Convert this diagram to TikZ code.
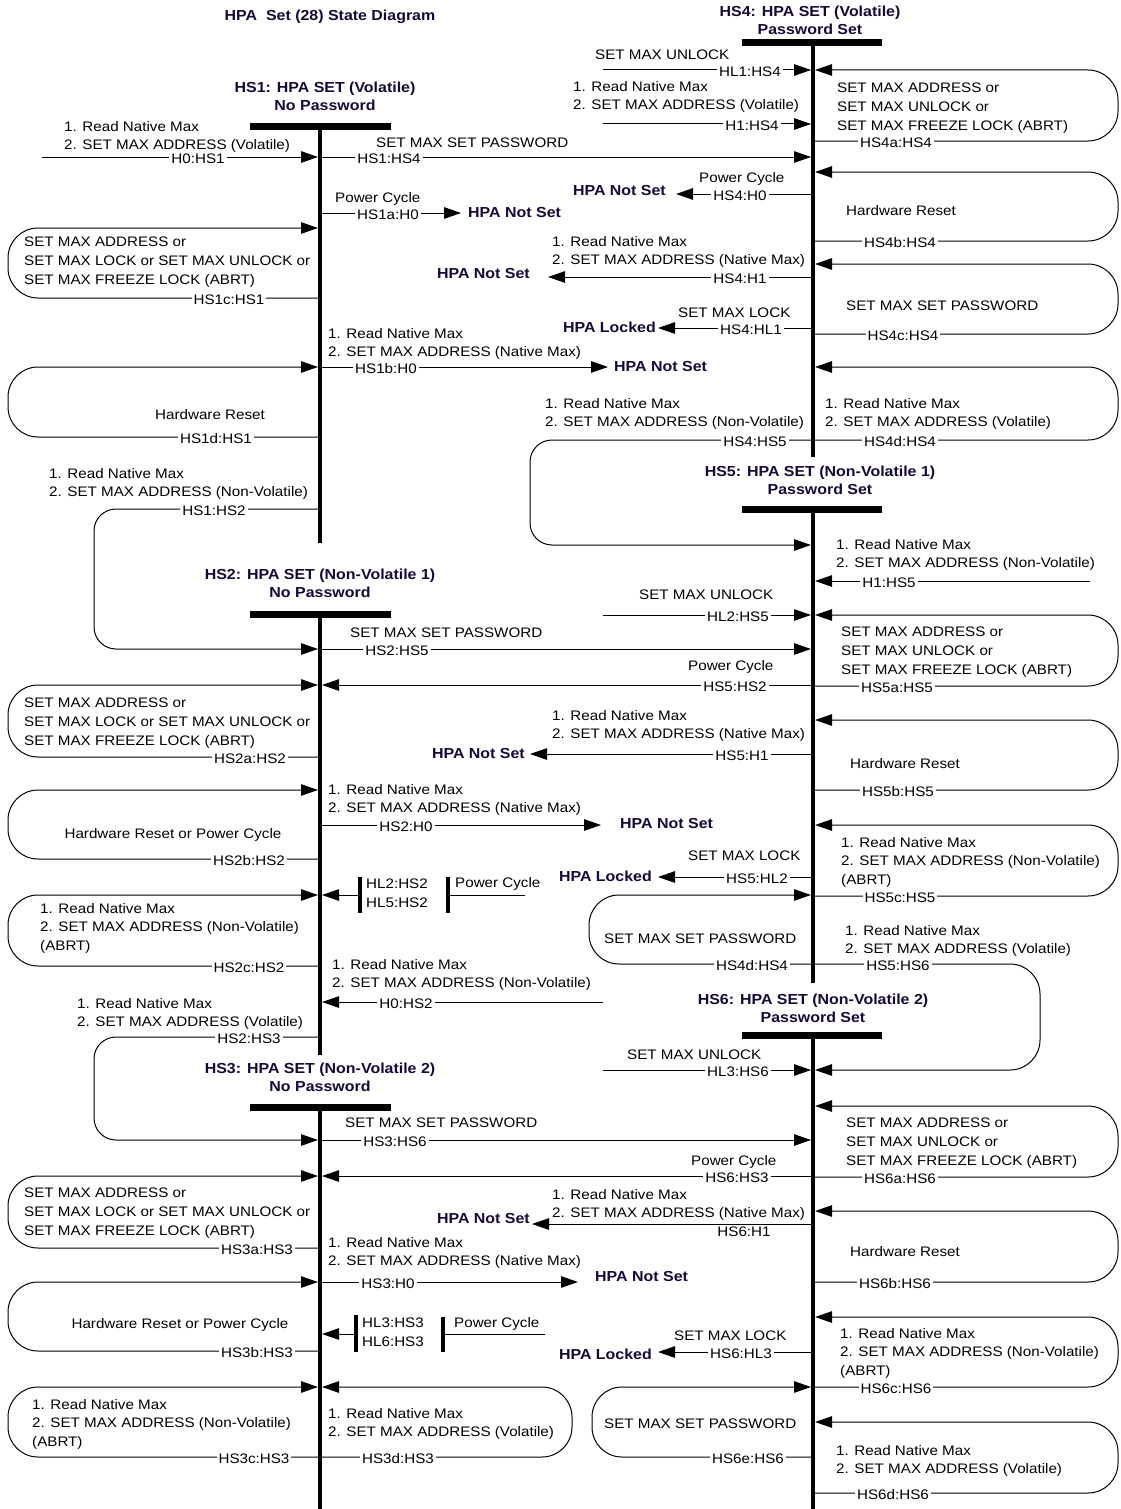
\documentclass[tikz,border=0pt]{standalone}
\usepackage{fontspec}
\setmainfont{Liberation Sans}[FakeStretch=1.1]
\usetikzlibrary{arrows.meta}
\definecolor{hdrink}{RGB}{24,8,56}
\tikzset{
	txt/.style={font=\fontsize{13.8}{18.7}\selectfont, inner sep=0pt, align=left, anchor=north west},
	ctxt/.style={txt, align=center, anchor=north},
	hdr/.style={font=\fontsize{14.5}{18}\selectfont\bfseries, text=hdrink, inner sep=0pt, align=center, anchor=north},
	goal/.style={font=\fontsize{14.5}{18}\selectfont\bfseries, text=hdrink, inner sep=0pt},
	tag/.style={font=\fontsize{13.8}{18.7}\selectfont, fill=white, inner xsep=2pt, inner ysep=0.5pt, text height=9.9pt, text depth=0pt, yshift=-2pt},
	conn/.style={line width=1pt},
	into/.style={-{Triangle[length=17pt,width=11.5pt]}},
	life/.style={line width=4pt},
	bar/.style={line width=7pt},
	gate/.style={line width=3.5pt}
}

\begin{document}
\begin{tikzpicture}[x=1pt,y=-1pt]
		%%%%% START %%%%%
		\useasboundingbox[fill=white] (0,0) rectangle (1120,1509);
		
		\node[goal] (title) at (330,17) {HPA\ \ Set (28) State Diagram};
		
		% states
		\node[hdr] (hs1) at (325,82) {HS1: HPA SET (Volatile)\\No Password};
		\draw[bar] (250,127) -- (391,127);
		\draw[life] (320,127) -- (320,543);
		
		\node[hdr] (hs2) at (320,569) {HS2: HPA SET (Non-Volatile 1)\\No Password};
		\draw[bar] (250,614) -- (391,614);
		\draw[life] (320,614) -- (320,1055);
		
		\node[hdr] (hs3) at (320,1063) {HS3: HPA SET (Non-Volatile 2)\\No Password};
		\draw[bar] (250,1107) -- (391,1107);
		\draw[life] (320,1107) -- (320,1509);
		
		\node[hdr] (hs4) at (810,6) {HS4: HPA SET (Volatile)\\Password Set};
		\draw[bar] (742,43) -- (882,43);
		\draw[life] (813,43) -- (813,457);
		
		\node[hdr] (hs5) at (820,466) {HS5: HPA SET (Non-Volatile 1)\\Password Set};
		\draw[bar] (742,509) -- (882,509);
		\draw[life] (813,509) -- (813,983);
		
		\node[hdr] (hs6) at (813,994) {HS6: HPA SET (Non-Volatile 2)\\Password Set};
		\draw[bar] (742,1035) -- (882,1035);
		\draw[life] (813,1035) -- (813,1509);
		
		% HS1
		\node[txt] (h0hs1c) at (64,121) {1. Read Native Max\\2. SET MAX ADDRESS (Volatile)};
		\draw[conn,into] (42,157) -- (318,157);
		\node[tag] (h0hs1) at (198,157) {H0:HS1};
		
		\node[txt] (hs1hs4c) at (376,138) {SET MAX SET PASSWORD};
		\draw[conn,into] (320,157) -- (811,157);
		\node[tag] (hs1hs4) at (389,157) {HS1:HS4};
		
		\node[txt] (hs1ah0c) at (335,192) {Power Cycle};
		\draw[conn,into] (320,213) -- (461,213);
		\node[tag] (hs1ah0) at (388,213) {HS1a:H0};
		\node[goal,anchor=west] (notset1) at (468,213) {HPA Not Set};
		
		\draw[conn,into,rounded corners=30pt] (320,298) -- (8,298) -- (8,228) -- (318,228);
		\node[txt] (hs1cc) at (24,237) {SET MAX ADDRESS or\\SET MAX LOCK or SET MAX UNLOCK or\\SET MAX FREEZE LOCK (ABRT)};
		\node[tag] (hs1c) at (229,298) {HS1c:HS1};
		
		\node[txt] (hs1bh0c) at (328,328) {1. Read Native Max\\2. SET MAX ADDRESS (Native Max)};
		\draw[conn,into] (320,367) -- (608,367);
		\node[tag] (hs1bh0) at (386,367) {HS1b:H0};
		\node[goal,anchor=west] (notset2) at (614,367) {HPA Not Set};
		
		\draw[conn,into,rounded corners=30pt] (320,437) -- (8,437) -- (8,367) -- (318,367);
		\node[ctxt] (hs1dc) at (210,409) {Hardware Reset};
		\node[tag] (hs1d) at (216,437) {HS1d:HS1};
		
		\node[txt] (hs1hs2c) at (49,468) {1. Read Native Max\\2. SET MAX ADDRESS (Non-Volatile)};
		\draw[conn,into,rounded corners=22pt] (320,509) -- (94,509) -- (94,649) -- (318,649);
		\node[tag] (hs1hs2) at (214,509) {HS1:HS2};
		
		% HS2
		\node[txt] (hs2hs5c) at (350,628) {SET MAX SET PASSWORD};
		\draw[conn,into] (320,649) -- (811,649);
		\node[tag] (hs2hs5) at (397,649) {HS2:HS5};
		
		\draw[conn,into,rounded corners=30pt] (320,757) -- (8,757) -- (8,685) -- (318,685);
		\node[txt] (hs2ac) at (24,698) {SET MAX ADDRESS or\\SET MAX LOCK or SET MAX UNLOCK or\\SET MAX FREEZE LOCK (ABRT)};
		\node[tag] (hs2a) at (250,757) {HS2a:HS2};
		
		\node[txt] (hs5hs2c) at (688,660) {Power Cycle};
		\draw[conn,into] (813,685) -- (322,685);
		\node[tag] (hs5hs2) at (735,685) {HS5:HS2};
		
		\node[txt] (hs2h0c) at (328,784) {1. Read Native Max\\2. SET MAX ADDRESS (Native Max)};
		\draw[conn,into] (320,825) -- (601,825);
		\node[tag] (hs2h0) at (406,825) {HS2:H0};
		\node[goal,anchor=west] (notset3) at (620,823) {HPA Not Set};
		
		\draw[conn,into,rounded corners=30pt] (320,859) -- (8,859) -- (8,790) -- (318,790);
		\node[ctxt] (hs2bc) at (173,828) {Hardware Reset or Power Cycle};
		\node[tag] (hs2b) at (249,859) {HS2b:HS2};
		
		\draw[conn,into,rounded corners=30pt] (320,966) -- (8,966) -- (8,895) -- (318,895);
		\node[txt] (hs2cc) at (40,903) {1. Read Native Max\\2. SET MAX ADDRESS (Non-Volatile)\\(ABRT)};
		\node[tag] (hs2c) at (249,966) {HS2c:HS2};
		
		\draw[conn,into] (360,895) -- (322,895);
		\draw[gate] (360,877) -- (360,913);
		\node[txt] (hl2hs2) at (366,879) {HL2:HS2\\HL5:HS2};
		\draw[gate] (448,877) -- (448,913);
		\node[txt] (hl2pc) at (455,877) {Power Cycle};
		\draw[conn] (448,895) -- (525,895);
		
		\node[txt] (h0hs2c) at (332,959) {1. Read Native Max\\2. SET MAX ADDRESS (Non-Volatile)};
		\draw[conn,into] (603,1002) -- (322,1002);
		\node[tag] (h0hs2) at (406,1002) {H0:HS2};
		
		\node[txt] (hs2hs3c) at (77,998) {1. Read Native Max\\2. SET MAX ADDRESS (Volatile)};
		\draw[conn,into,rounded corners=22pt] (320,1037) -- (94,1037) -- (94,1140) -- (318,1140);
		\node[tag] (hs2hs3) at (249,1037) {HS2:HS3};
		
		% HS3
		\node[txt] (hs3hs6c) at (345,1118) {SET MAX SET PASSWORD};
		\draw[conn,into] (320,1140) -- (811,1140);
		\node[tag] (hs3hs6) at (395,1140) {HS3:HS6};
		
		\draw[conn,into,rounded corners=30pt] (320,1248) -- (8,1248) -- (8,1176) -- (318,1176);
		\node[txt] (hs3ac) at (24,1188) {SET MAX ADDRESS or\\SET MAX LOCK or SET MAX UNLOCK or\\SET MAX FREEZE LOCK (ABRT)};
		\node[tag] (hs3a) at (257,1248) {HS3a:HS3};
		
		\node[txt] (hs6hs3c) at (691,1155) {Power Cycle};
		\draw[conn,into] (813,1176) -- (322,1176);
		\node[tag] (hs6hs3) at (737,1176) {HS6:HS3};
		
		\node[txt] (hs3h0c) at (328,1237) {1. Read Native Max\\2. SET MAX ADDRESS (Native Max)};
		\draw[conn,into] (320,1282) -- (578,1282);
		\node[tag] (hs3h0) at (388,1282) {HS3:H0};
		\node[goal,anchor=west] (notset4) at (595,1276) {HPA Not Set};
		
		\draw[conn,into,rounded corners=30pt] (320,1351) -- (8,1351) -- (8,1282) -- (318,1282);
		\node[ctxt] (hs3bc) at (180,1318) {Hardware Reset or Power Cycle};
		\node[tag] (hs3b) at (257,1351) {HS3b:HS3};
		
		\draw[conn,into] (356,1334) -- (322,1334);
		\draw[gate] (356,1315) -- (356,1352);
		\node[txt] (hl3hs3) at (362,1318) {HL3:HS3\\HL6:HS3};
		\draw[gate] (443,1317) -- (443,1352);
		\node[txt] (hl3pc) at (454,1317) {Power Cycle};
		\draw[conn] (443,1334) -- (545,1334);
		
		\draw[conn,into,rounded corners=30pt] (320,1457) -- (8,1457) -- (8,1387) -- (318,1387);
		\node[txt] (hs3cc) at (32,1399) {1. Read Native Max\\2. SET MAX ADDRESS (Non-Volatile)\\(ABRT)};
		\node[tag] (hs3c) at (254,1457) {HS3c:HS3};
		
		\draw[conn,into,rounded corners=30pt] (320,1457) -- (572,1457) -- (572,1387) -- (322,1387);
		\node[txt] (hs3dc) at (328,1408) {1. Read Native Max\\2. SET MAX ADDRESS (Volatile)};
		\node[tag] (hs3d) at (398,1457) {HS3d:HS3};
		
		% HS4
		\node[txt] (hl1hs4c) at (595,50) {SET MAX UNLOCK};
		\draw[conn,into] (603,70) -- (811,70);
		\node[tag] (hl1hs4) at (750,70) {HL1:HS4};
		
		\draw[conn,into,rounded corners=30pt] (813,141) -- (1118,141) -- (1118,70) -- (815,70);
		\node[txt] (hs4ac) at (837,83) {SET MAX ADDRESS or\\SET MAX UNLOCK or\\SET MAX FREEZE LOCK (ABRT)};
		\node[tag] (hs4a) at (896,141) {HS4a:HS4};
		
		\node[txt] (h1hs4c) at (573,81) {1. Read Native Max\\2. SET MAX ADDRESS (Volatile)};
		\draw[conn,into] (603,124) -- (811,124);
		\node[tag] (h1hs4) at (752,124) {H1:HS4};
		
		\node[txt] (hs4h0c) at (699,172) {Power Cycle};
		\draw[conn,into] (813,194) -- (676,194);
		\node[tag] (hs4h0) at (740,194) {HS4:H0};
		\node[goal,anchor=east] (notset5) at (666,191) {HPA Not Set};
		
		\draw[conn,into,rounded corners=30pt] (813,241) -- (1118,241) -- (1118,172) -- (815,172);
		\node[txt] (hs4bc) at (846,205) {Hardware Reset};
		\node[tag] (hs4b) at (900,241) {HS4b:HS4};
		
		\node[txt] (hs4h1c) at (552,236) {1. Read Native Max\\2. SET MAX ADDRESS (Native Max)};
		\draw[conn,into] (813,277) -- (548,277);
		\node[tag] (hs4h1) at (740,277) {HS4:H1};
		\node[goal,anchor=east] (notset6) at (530,274) {HPA Not Set};
		
		\draw[conn,into,rounded corners=30pt] (813,334) -- (1118,334) -- (1118,264) -- (815,264);
		\node[txt] (hs4cc) at (846,301) {SET MAX SET PASSWORD};
		\node[tag] (hs4c) at (903,334) {HS4c:HS4};
		
		\node[txt] (hs4hl1c) at (678,308) {SET MAX LOCK};
		\draw[conn,into] (813,328) -- (658,328);
		\node[tag] (hs4hl1) at (751,328) {HS4:HL1};
		\node[goal,anchor=east] (locked1) at (656,327) {HPA Locked};
		
		\draw[conn,into,rounded corners=30pt] (813,440) -- (1118,440) -- (1118,367) -- (815,367);
		\node[txt] (hs4dc) at (825,398) {1. Read Native Max\\2. SET MAX ADDRESS (Volatile)};
		\node[tag] (hs4d) at (900,440) {HS4d:HS4};
		
		\node[txt] (hs4hs5c) at (545,398) {1. Read Native Max\\2. SET MAX ADDRESS (Non-Volatile)};
		\draw[conn,into,rounded corners=22pt] (813,440) -- (530,440) -- (530,545) -- (811,545);
		\node[tag] (hs4hs5) at (755,440) {HS4:HS5};
		
		% HS5
		\node[txt] (h1hs5c) at (836,539) {1. Read Native Max\\2. SET MAX ADDRESS (Non-Volatile)};
		\draw[conn,into] (1090,581) -- (815,581);
		\node[tag] (h1hs5) at (889,581) {H1:HS5};
		
		\node[txt] (hl2hs5c) at (639,590) {SET MAX UNLOCK};
		\draw[conn,into] (603,615) -- (811,615);
		\node[tag] (hl2hs5) at (738,615) {HL2:HS5};
		
		\draw[conn,into,rounded corners=30pt] (813,686) -- (1118,686) -- (1118,615) -- (815,615);
		\node[txt] (hs5ac) at (841,627) {SET MAX ADDRESS or\\SET MAX UNLOCK or\\SET MAX FREEZE LOCK (ABRT)};
		\node[tag] (hs5a) at (897,686) {HS5a:HS5};
		
		\node[txt] (hs5h1c) at (552,710) {1. Read Native Max\\2. SET MAX ADDRESS (Native Max)};
		\draw[conn,into] (813,754) -- (530,754);
		\node[tag] (hs5h1) at (742,754) {HS5:H1};
		\node[goal,anchor=east] (notset7) at (525,753) {HPA Not Set};
		
		\draw[conn,into,rounded corners=30pt] (813,790) -- (1118,790) -- (1118,720) -- (815,720);
		\node[txt] (hs5bc) at (850,758) {Hardware Reset};
		\node[tag] (hs5b) at (898,790) {HS5b:HS5};
		
		\draw[conn,into,rounded corners=30pt] (813,896) -- (1118,896) -- (1118,825) -- (815,825);
		\node[txt] (hs5cc) at (841,837) {1. Read Native Max\\2. SET MAX ADDRESS (Non-Volatile)\\(ABRT)};
		\node[tag] (hs5c) at (900,896) {HS5c:HS5};
		
		\node[txt] (hs5hl2c) at (688,851) {SET MAX LOCK};
		\draw[conn,into] (813,877) -- (658,877);
		\node[tag] (hs5hl2) at (757,877) {HS5:HL2};
		\node[goal,anchor=east] (locked2) at (652,876) {HPA Locked};
		
		\draw[conn,into,rounded corners=30pt] (813,964) -- (589,964) -- (589,895) -- (811,895);
		\node[txt] (hs5pwc) at (604,934) {SET MAX SET PASSWORD};
		\node[tag] (hs5pw) at (752,964) {HS4d:HS4};
		
		\node[txt] (hs5hs6c) at (845,925) {1. Read Native Max\\2. SET MAX ADDRESS (Volatile)};
		\draw[conn,into,rounded corners=30pt] (813,964) -- (1040,964) -- (1040,1070) -- (815,1070);
		\node[tag] (hs5hs6) at (898,964) {HS5:HS6};
		
		% HS6
		\node[txt] (hl3hs6c) at (627,1050) {SET MAX UNLOCK};
		\draw[conn,into] (603,1070) -- (811,1070);
		\node[tag] (hl3hs6) at (738,1070) {HL3:HS6};
		
		\draw[conn,into,rounded corners=30pt] (813,1177) -- (1118,1177) -- (1118,1106) -- (815,1106);
		\node[txt] (hs6ac) at (846,1118) {SET MAX ADDRESS or\\SET MAX UNLOCK or\\SET MAX FREEZE LOCK (ABRT)};
		\node[tag] (hs6a) at (900,1177) {HS6a:HS6};
		
		\node[txt] (hs6h1c) at (552,1189) {1. Read Native Max\\2. SET MAX ADDRESS (Native Max)};
		\draw[conn,into] (813,1224) -- (532,1224);
		\node[tag] (hs6h1) at (744,1230) {HS6:H1};
		\node[goal,anchor=east] (notset8) at (530,1218) {HPA Not Set};
		
		\draw[conn,into,rounded corners=30pt] (813,1282) -- (1118,1282) -- (1118,1211) -- (815,1211);
		\node[txt] (hs6bc) at (850,1246) {Hardware Reset};
		\node[tag] (hs6b) at (895,1282) {HS6b:HS6};
		
		\draw[conn,into,rounded corners=30pt] (813,1387) -- (1118,1387) -- (1118,1317) -- (815,1317);
		\node[txt] (hs6cc) at (840,1328) {1. Read Native Max\\2. SET MAX ADDRESS (Non-Volatile)\\(ABRT)};
		\node[tag] (hs6c) at (896,1387) {HS6c:HS6};
		
		\node[txt] (hs6hl3c) at (674,1331) {SET MAX LOCK};
		\draw[conn,into] (813,1352) -- (658,1352);
		\node[tag] (hs6hl3) at (741,1352) {HS6:HL3};
		\node[goal,anchor=east] (locked3) at (652,1354) {HPA Locked};
		
		\draw[conn,into,rounded corners=30pt] (813,1457) -- (592,1457) -- (592,1387) -- (811,1387);
		\node[txt] (hs6ec) at (604,1419) {SET MAX SET PASSWORD};
		\node[tag] (hs6e) at (748,1457) {HS6e:HS6};
		
		\draw[conn,into,rounded corners=30pt] (813,1493) -- (1118,1493) -- (1118,1422) -- (815,1422);
		\node[txt] (hs6dc) at (836,1445) {1. Read Native Max\\2. SET MAX ADDRESS (Volatile)};
		\node[tag] (hs6d) at (893,1493) {HS6d:HS6};
		
		%%%%% END %%%%%
\end{tikzpicture}
\end{document}
